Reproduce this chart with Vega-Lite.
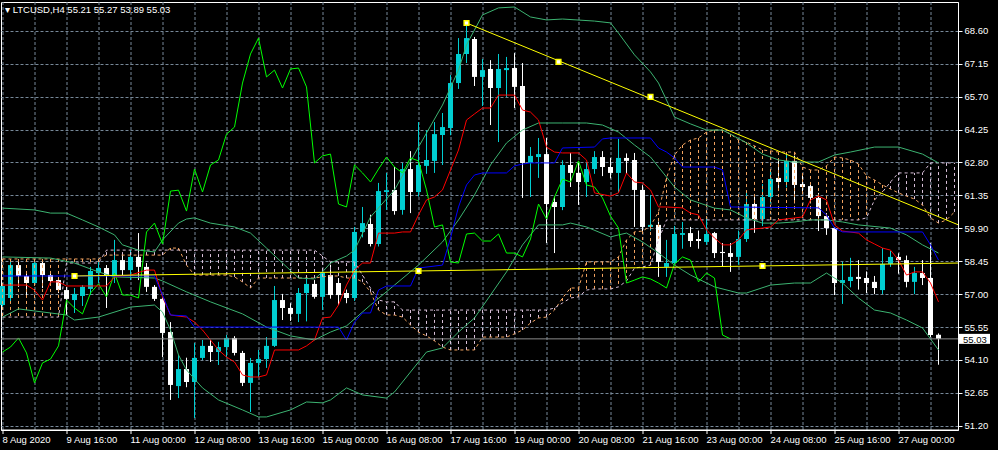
{
"$schema": "https://vega.github.io/schema/vega-lite/v6.json",
"width": 957,
"height": 428,
"autosize": {"type": "none"},
"padding": {"left": 1, "top": 2, "right": 40, "bottom": 20},
"background": "#000000",
"title": {"text": "▾ LTCUSD,H4  55.21 55.27 53.89 55.03", "anchor": "start", "frame": "group", "orient": "top", "offset": -20, "baseline": "alphabetic", "dx": 4, "color": "#ffffff", "font": "Liberation Sans", "fontSize": 9.5, "fontWeight": "normal"},
"config": {"view": {"stroke": "#ffffff", "strokeWidth": 1}, "axis": {"labelOverlap": false, "labelFlush": false, "labelBound": false}},
"datasets": {
"bars": [
{"t":"2020-08-08T08:00Z","o":56.52,"h":57.50,"l":56.45,"c":57.36},
{"t":"2020-08-08T12:00Z","o":56.83,"h":58.50,"l":56.66,"c":58.28},
{"t":"2020-08-08T16:00Z","o":58.28,"h":58.50,"l":57.32,"c":57.80},
{"t":"2020-08-08T20:00Z","o":57.80,"h":57.98,"l":56.96,"c":57.49},
{"t":"2020-08-09T00:00Z","o":57.49,"h":58.50,"l":57.40,"c":58.37},
{"t":"2020-08-09T04:00Z","o":58.37,"h":58.50,"l":57.27,"c":57.84},
{"t":"2020-08-09T08:00Z","o":57.84,"h":57.93,"l":57.40,"c":57.58},
{"t":"2020-08-09T12:00Z","o":57.62,"h":57.71,"l":57.05,"c":57.18},
{"t":"2020-08-09T16:00Z","o":57.18,"h":57.32,"l":56.08,"c":56.79},
{"t":"2020-08-09T20:00Z","o":56.74,"h":57.27,"l":56.17,"c":57.01},
{"t":"2020-08-10T00:00Z","o":56.92,"h":57.40,"l":56.48,"c":57.32},
{"t":"2020-08-10T04:00Z","o":57.23,"h":58.20,"l":56.96,"c":58.02},
{"t":"2020-08-10T08:00Z","o":57.93,"h":58.42,"l":57.49,"c":58.15},
{"t":"2020-08-10T12:00Z","o":58.15,"h":58.28,"l":56.39,"c":57.84},
{"t":"2020-08-10T16:00Z","o":57.80,"h":59.39,"l":57.49,"c":58.50},
{"t":"2020-08-10T20:00Z","o":58.50,"h":58.72,"l":57.84,"c":58.06},
{"t":"2020-08-11T00:00Z","o":58.06,"h":58.94,"l":57.62,"c":58.64},
{"t":"2020-08-11T04:00Z","o":58.64,"h":59.69,"l":57.62,"c":58.20},
{"t":"2020-08-11T08:00Z","o":58.20,"h":58.37,"l":57.10,"c":57.32},
{"t":"2020-08-11T12:00Z","o":57.32,"h":57.40,"l":56.70,"c":56.79},
{"t":"2020-08-11T16:00Z","o":56.79,"h":56.85,"l":54.23,"c":55.29},
{"t":"2020-08-11T20:00Z","o":55.33,"h":55.77,"l":52.34,"c":53.00},
{"t":"2020-08-12T00:00Z","o":52.95,"h":54.32,"l":52.42,"c":53.70},
{"t":"2020-08-12T04:00Z","o":53.70,"h":54.20,"l":52.90,"c":53.13},
{"t":"2020-08-12T08:00Z","o":53.13,"h":54.85,"l":51.54,"c":54.19},
{"t":"2020-08-12T12:00Z","o":54.19,"h":54.98,"l":54.10,"c":54.72},
{"t":"2020-08-12T16:00Z","o":54.72,"h":54.98,"l":54.01,"c":54.45},
{"t":"2020-08-12T20:00Z","o":54.45,"h":54.90,"l":53.88,"c":54.67},
{"t":"2020-08-13T00:00Z","o":54.67,"h":55.20,"l":54.23,"c":55.07},
{"t":"2020-08-13T04:00Z","o":55.07,"h":55.15,"l":54.30,"c":54.41},
{"t":"2020-08-13T08:00Z","o":54.41,"h":54.50,"l":52.95,"c":53.09},
{"t":"2020-08-13T12:00Z","o":53.09,"h":54.19,"l":51.81,"c":53.97},
{"t":"2020-08-13T16:00Z","o":53.97,"h":54.54,"l":53.35,"c":54.14},
{"t":"2020-08-13T20:00Z","o":54.14,"h":55.11,"l":53.75,"c":54.72},
{"t":"2020-08-14T00:00Z","o":54.72,"h":57.36,"l":54.67,"c":56.74},
{"t":"2020-08-14T04:00Z","o":56.74,"h":57.01,"l":55.86,"c":56.39},
{"t":"2020-08-14T08:00Z","o":56.39,"h":56.60,"l":55.82,"c":56.13},
{"t":"2020-08-14T12:00Z","o":56.13,"h":57.27,"l":55.77,"c":57.05},
{"t":"2020-08-14T16:00Z","o":57.05,"h":57.71,"l":55.80,"c":57.45},
{"t":"2020-08-14T20:00Z","o":57.45,"h":57.62,"l":56.80,"c":56.88},
{"t":"2020-08-15T00:00Z","o":56.88,"h":58.06,"l":56.30,"c":57.93},
{"t":"2020-08-15T04:00Z","o":57.84,"h":58.30,"l":56.80,"c":56.96},
{"t":"2020-08-15T08:00Z","o":57.49,"h":57.71,"l":56.52,"c":56.96},
{"t":"2020-08-15T12:00Z","o":57.05,"h":57.20,"l":56.60,"c":56.83},
{"t":"2020-08-15T16:00Z","o":56.83,"h":59.96,"l":56.70,"c":59.74},
{"t":"2020-08-15T20:00Z","o":59.74,"h":60.84,"l":59.50,"c":60.13},
{"t":"2020-08-16T00:00Z","o":60.09,"h":60.50,"l":59.10,"c":59.21},
{"t":"2020-08-16T04:00Z","o":59.21,"h":61.90,"l":59.10,"c":61.54},
{"t":"2020-08-16T08:00Z","o":61.50,"h":62.34,"l":60.71,"c":61.58},
{"t":"2020-08-16T12:00Z","o":61.59,"h":62.60,"l":60.50,"c":60.66},
{"t":"2020-08-16T16:00Z","o":60.71,"h":62.78,"l":60.50,"c":62.51},
{"t":"2020-08-16T20:00Z","o":62.51,"h":63.30,"l":60.57,"c":61.50},
{"t":"2020-08-17T00:00Z","o":61.50,"h":64.58,"l":61.30,"c":62.69},
{"t":"2020-08-17T04:00Z","o":62.65,"h":64.23,"l":62.30,"c":62.91},
{"t":"2020-08-17T08:00Z","o":62.87,"h":64.58,"l":62.34,"c":64.05},
{"t":"2020-08-17T12:00Z","o":64.01,"h":64.98,"l":62.69,"c":64.36},
{"t":"2020-08-17T16:00Z","o":64.32,"h":66.65,"l":64.00,"c":66.30},
{"t":"2020-08-17T20:00Z","o":66.30,"h":68.28,"l":66.04,"c":67.58},
{"t":"2020-08-18T00:00Z","o":67.58,"h":68.945,"l":67.18,"c":68.28},
{"t":"2020-08-18T04:00Z","o":68.24,"h":68.33,"l":66.17,"c":66.57},
{"t":"2020-08-18T08:00Z","o":66.57,"h":67.36,"l":65.29,"c":66.87},
{"t":"2020-08-18T12:00Z","o":66.92,"h":67.31,"l":64.45,"c":66.08},
{"t":"2020-08-18T16:00Z","o":66.08,"h":67.58,"l":63.70,"c":66.92},
{"t":"2020-08-18T20:00Z","o":66.87,"h":67.45,"l":65.69,"c":66.96},
{"t":"2020-08-19T00:00Z","o":66.96,"h":67.62,"l":65.20,"c":66.13},
{"t":"2020-08-19T04:00Z","o":66.17,"h":67.18,"l":61.24,"c":62.78},
{"t":"2020-08-19T08:00Z","o":62.78,"h":63.48,"l":61.28,"c":63.09},
{"t":"2020-08-19T12:00Z","o":63.04,"h":63.88,"l":62.12,"c":63.17},
{"t":"2020-08-19T16:00Z","o":63.17,"h":63.88,"l":59.25,"c":60.97},
{"t":"2020-08-19T20:00Z","o":61.06,"h":61.30,"l":58.81,"c":60.84},
{"t":"2020-08-20T00:00Z","o":60.84,"h":62.90,"l":60.70,"c":62.69},
{"t":"2020-08-20T04:00Z","o":62.69,"h":63.22,"l":61.72,"c":62.34},
{"t":"2020-08-20T08:00Z","o":62.34,"h":62.78,"l":60.93,"c":61.94},
{"t":"2020-08-20T12:00Z","o":61.94,"h":62.78,"l":61.28,"c":62.51},
{"t":"2020-08-20T16:00Z","o":62.51,"h":63.30,"l":62.30,"c":63.04},
{"t":"2020-08-20T20:00Z","o":63.04,"h":63.30,"l":62.20,"c":62.60},
{"t":"2020-08-21T00:00Z","o":62.60,"h":63.00,"l":62.10,"c":62.34},
{"t":"2020-08-21T04:00Z","o":62.34,"h":63.84,"l":61.46,"c":63.00},
{"t":"2020-08-21T08:00Z","o":63.00,"h":63.20,"l":62.30,"c":62.87},
{"t":"2020-08-21T12:00Z","o":62.91,"h":63.22,"l":59.96,"c":61.59},
{"t":"2020-08-21T16:00Z","o":61.59,"h":61.80,"l":59.70,"c":59.96},
{"t":"2020-08-21T20:00Z","o":59.96,"h":61.37,"l":59.80,"c":60.05},
{"t":"2020-08-22T00:00Z","o":60.05,"h":60.20,"l":57.76,"c":58.42},
{"t":"2020-08-22T04:00Z","o":58.20,"h":59.39,"l":57.76,"c":58.37},
{"t":"2020-08-22T08:00Z","o":58.37,"h":60.00,"l":58.33,"c":59.65},
{"t":"2020-08-22T12:00Z","o":59.61,"h":60.18,"l":59.00,"c":59.69},
{"t":"2020-08-22T16:00Z","o":59.69,"h":59.96,"l":59.08,"c":59.34},
{"t":"2020-08-22T20:00Z","o":59.43,"h":59.80,"l":59.00,"c":59.34},
{"t":"2020-08-23T00:00Z","o":59.30,"h":60.44,"l":59.17,"c":59.65},
{"t":"2020-08-23T04:00Z","o":59.69,"h":59.74,"l":58.59,"c":58.81},
{"t":"2020-08-23T08:00Z","o":58.86,"h":59.25,"l":58.24,"c":58.81},
{"t":"2020-08-23T12:00Z","o":58.81,"h":59.25,"l":57.98,"c":58.64},
{"t":"2020-08-23T16:00Z","o":58.64,"h":59.80,"l":58.30,"c":59.43},
{"t":"2020-08-23T20:00Z","o":59.43,"h":61.50,"l":59.30,"c":60.97},
{"t":"2020-08-24T00:00Z","o":60.97,"h":61.30,"l":59.70,"c":60.31},
{"t":"2020-08-24T04:00Z","o":60.31,"h":61.85,"l":60.00,"c":61.28},
{"t":"2020-08-24T08:00Z","o":61.28,"h":62.50,"l":61.00,"c":62.07},
{"t":"2020-08-24T12:00Z","o":62.12,"h":62.90,"l":61.60,"c":61.94},
{"t":"2020-08-24T16:00Z","o":61.94,"h":63.20,"l":61.70,"c":62.87},
{"t":"2020-08-24T20:00Z","o":62.87,"h":63.10,"l":61.00,"c":61.81},
{"t":"2020-08-25T00:00Z","o":61.85,"h":62.30,"l":61.40,"c":61.72},
{"t":"2020-08-25T04:00Z","o":61.76,"h":61.90,"l":61.00,"c":61.24},
{"t":"2020-08-25T08:00Z","o":61.24,"h":61.46,"l":59.78,"c":60.44},
{"t":"2020-08-25T12:00Z","o":60.44,"h":60.57,"l":59.61,"c":59.91},
{"t":"2020-08-25T16:00Z","o":59.91,"h":59.96,"l":56.96,"c":57.49},
{"t":"2020-08-25T20:00Z","o":57.49,"h":58.42,"l":56.57,"c":57.62},
{"t":"2020-08-26T00:00Z","o":57.58,"h":58.60,"l":57.30,"c":57.76},
{"t":"2020-08-26T04:00Z","o":57.76,"h":58.50,"l":57.20,"c":57.67},
{"t":"2020-08-26T08:00Z","o":57.71,"h":58.00,"l":57.05,"c":57.49},
{"t":"2020-08-26T12:00Z","o":57.54,"h":57.80,"l":57.00,"c":57.27},
{"t":"2020-08-26T16:00Z","o":57.18,"h":59.03,"l":57.00,"c":58.33},
{"t":"2020-08-26T20:00Z","o":58.33,"h":58.90,"l":58.20,"c":58.64},
{"t":"2020-08-27T00:00Z","o":58.64,"h":58.80,"l":57.90,"c":58.50},
{"t":"2020-08-27T04:00Z","o":58.50,"h":58.70,"l":57.30,"c":57.54},
{"t":"2020-08-27T08:00Z","o":57.54,"h":58.20,"l":57.00,"c":57.93},
{"t":"2020-08-27T12:00Z","o":57.93,"h":58.50,"l":57.40,"c":57.71},
{"t":"2020-08-27T16:00Z","o":57.71,"h":59.25,"l":55.10,"c":55.20},
{"t":"2020-08-27T20:00Z","o":55.21,"h":55.27,"l":53.89,"c":55.03}
],
"cloud": [
{"t":"2020-08-08T08:00Z","a":58.55,"b":55.99},
{"t":"2020-08-08T12:00Z","a":58.55,"b":55.99},
{"t":"2020-08-08T16:00Z","a":58.55,"b":55.99},
{"t":"2020-08-08T20:00Z","a":58.55,"b":55.99},
{"t":"2020-08-09T00:00Z","a":58.55,"b":55.99},
{"t":"2020-08-09T04:00Z","a":58.55,"b":55.99},
{"t":"2020-08-09T08:00Z","a":58.55,"b":55.99},
{"t":"2020-08-09T12:00Z","a":58.55,"b":55.99},
{"t":"2020-08-09T16:00Z","a":58.55,"b":58.37},
{"t":"2020-08-09T20:00Z","a":58.55,"b":58.37},
{"t":"2020-08-10T00:00Z","a":58.55,"b":58.37},
{"t":"2020-08-10T04:00Z","a":58.55,"b":58.37},
{"t":"2020-08-10T08:00Z","a":58.55,"b":58.37},
{"t":"2020-08-10T12:00Z","a":58.72,"b":58.94},
{"t":"2020-08-10T16:00Z","a":58.72,"b":58.94},
{"t":"2020-08-10T20:00Z","a":58.72,"b":58.94},
{"t":"2020-08-11T00:00Z","a":58.72,"b":58.94},
{"t":"2020-08-11T04:00Z","a":58.72,"b":58.94},
{"t":"2020-08-11T08:00Z","a":58.72,"b":58.94},
{"t":"2020-08-11T12:00Z","a":58.72,"b":58.94},
{"t":"2020-08-11T16:00Z","a":58.72,"b":58.94},
{"t":"2020-08-11T20:00Z","a":59.03,"b":58.94},
{"t":"2020-08-12T00:00Z","a":59.03,"b":58.94},
{"t":"2020-08-12T04:00Z","a":58.28,"b":58.94},
{"t":"2020-08-12T08:00Z","a":57.84,"b":58.94},
{"t":"2020-08-12T12:00Z","a":57.84,"b":58.94},
{"t":"2020-08-12T16:00Z","a":57.84,"b":58.94},
{"t":"2020-08-12T20:00Z","a":57.84,"b":58.94},
{"t":"2020-08-13T00:00Z","a":57.84,"b":58.94},
{"t":"2020-08-13T04:00Z","a":57.76,"b":58.94},
{"t":"2020-08-13T08:00Z","a":57.54,"b":58.94},
{"t":"2020-08-13T12:00Z","a":57.27,"b":58.94},
{"t":"2020-08-13T16:00Z","a":57.71,"b":58.94},
{"t":"2020-08-13T20:00Z","a":57.71,"b":58.94},
{"t":"2020-08-14T00:00Z","a":57.71,"b":58.94},
{"t":"2020-08-14T04:00Z","a":57.71,"b":58.94},
{"t":"2020-08-14T08:00Z","a":57.71,"b":58.94},
{"t":"2020-08-14T12:00Z","a":57.71,"b":58.94},
{"t":"2020-08-14T16:00Z","a":57.71,"b":58.94},
{"t":"2020-08-14T20:00Z","a":57.71,"b":58.94},
{"t":"2020-08-15T00:00Z","a":57.76,"b":58.68},
{"t":"2020-08-15T04:00Z","a":57.80,"b":58.42},
{"t":"2020-08-15T08:00Z","a":57.80,"b":58.42},
{"t":"2020-08-15T12:00Z","a":57.71,"b":58.42},
{"t":"2020-08-15T16:00Z","a":57.71,"b":58.42},
{"t":"2020-08-15T20:00Z","a":57.54,"b":57.84},
{"t":"2020-08-16T00:00Z","a":57.10,"b":57.27},
{"t":"2020-08-16T04:00Z","a":56.30,"b":56.74},
{"t":"2020-08-16T08:00Z","a":56.08,"b":56.66},
{"t":"2020-08-16T12:00Z","a":56.08,"b":56.66},
{"t":"2020-08-16T16:00Z","a":55.99,"b":56.30},
{"t":"2020-08-16T20:00Z","a":55.64,"b":56.30},
{"t":"2020-08-17T00:00Z","a":55.33,"b":56.30},
{"t":"2020-08-17T04:00Z","a":55.16,"b":56.30},
{"t":"2020-08-17T08:00Z","a":54.94,"b":56.30},
{"t":"2020-08-17T12:00Z","a":54.67,"b":56.30},
{"t":"2020-08-17T16:00Z","a":54.54,"b":56.30},
{"t":"2020-08-17T20:00Z","a":54.54,"b":56.30},
{"t":"2020-08-18T00:00Z","a":54.54,"b":56.30},
{"t":"2020-08-18T04:00Z","a":54.54,"b":56.30},
{"t":"2020-08-18T08:00Z","a":55.11,"b":56.30},
{"t":"2020-08-18T12:00Z","a":55.11,"b":56.30},
{"t":"2020-08-18T16:00Z","a":55.11,"b":56.30},
{"t":"2020-08-18T20:00Z","a":55.11,"b":56.30},
{"t":"2020-08-19T00:00Z","a":55.25,"b":56.30},
{"t":"2020-08-19T04:00Z","a":55.42,"b":56.30},
{"t":"2020-08-19T08:00Z","a":55.73,"b":56.30},
{"t":"2020-08-19T12:00Z","a":55.95,"b":56.30},
{"t":"2020-08-19T16:00Z","a":55.99,"b":56.30},
{"t":"2020-08-19T20:00Z","a":56.30,"b":56.39},
{"t":"2020-08-20T00:00Z","a":56.83,"b":56.61},
{"t":"2020-08-20T04:00Z","a":57.27,"b":56.83},
{"t":"2020-08-20T08:00Z","a":57.27,"b":56.88},
{"t":"2020-08-20T12:00Z","a":58.42,"b":57.18},
{"t":"2020-08-20T16:00Z","a":58.42,"b":57.23},
{"t":"2020-08-20T20:00Z","a":58.42,"b":57.23},
{"t":"2020-08-21T00:00Z","a":58.42,"b":57.23},
{"t":"2020-08-21T04:00Z","a":58.64,"b":57.32},
{"t":"2020-08-21T08:00Z","a":59.39,"b":57.58},
{"t":"2020-08-21T12:00Z","a":59.74,"b":58.15},
{"t":"2020-08-21T16:00Z","a":59.78,"b":58.20},
{"t":"2020-08-21T20:00Z","a":60.00,"b":58.28},
{"t":"2020-08-22T00:00Z","a":60.62,"b":59.39},
{"t":"2020-08-22T04:00Z","a":62.12,"b":60.27},
{"t":"2020-08-22T08:00Z","a":63.13,"b":60.27},
{"t":"2020-08-22T12:00Z","a":63.57,"b":60.27},
{"t":"2020-08-22T16:00Z","a":63.79,"b":60.27},
{"t":"2020-08-22T20:00Z","a":63.88,"b":60.27},
{"t":"2020-08-23T00:00Z","a":64.14,"b":60.27},
{"t":"2020-08-23T04:00Z","a":64.23,"b":60.27},
{"t":"2020-08-23T08:00Z","a":64.23,"b":60.27},
{"t":"2020-08-23T12:00Z","a":64.05,"b":60.27},
{"t":"2020-08-23T16:00Z","a":63.79,"b":60.27},
{"t":"2020-08-23T20:00Z","a":63.70,"b":60.27},
{"t":"2020-08-24T00:00Z","a":63.53,"b":60.27},
{"t":"2020-08-24T04:00Z","a":63.35,"b":60.27},
{"t":"2020-08-24T08:00Z","a":63.31,"b":60.27},
{"t":"2020-08-24T12:00Z","a":63.26,"b":60.27},
{"t":"2020-08-24T16:00Z","a":63.26,"b":60.27},
{"t":"2020-08-24T20:00Z","a":63.26,"b":60.27},
{"t":"2020-08-25T00:00Z","a":62.60,"b":60.27},
{"t":"2020-08-25T04:00Z","a":62.47,"b":60.27},
{"t":"2020-08-25T08:00Z","a":62.47,"b":60.27},
{"t":"2020-08-25T12:00Z","a":62.65,"b":60.27},
{"t":"2020-08-25T16:00Z","a":63.04,"b":60.27},
{"t":"2020-08-25T20:00Z","a":63.00,"b":60.27},
{"t":"2020-08-26T00:00Z","a":62.91,"b":60.27},
{"t":"2020-08-26T04:00Z","a":62.73,"b":60.27},
{"t":"2020-08-26T08:00Z","a":62.21,"b":60.36},
{"t":"2020-08-26T12:00Z","a":62.03,"b":61.15},
{"t":"2020-08-26T16:00Z","a":61.81,"b":61.50},
{"t":"2020-08-26T20:00Z","a":61.63,"b":61.94},
{"t":"2020-08-27T00:00Z","a":61.46,"b":62.34},
{"t":"2020-08-27T04:00Z","a":61.32,"b":62.34},
{"t":"2020-08-27T08:00Z","a":61.19,"b":62.34},
{"t":"2020-08-27T12:00Z","a":60.93,"b":62.34},
{"t":"2020-08-27T16:00Z","a":60.36,"b":62.78},
{"t":"2020-08-27T20:00Z","a":60.13,"b":62.78},
{"t":"2020-08-28T00:00Z","a":60.27,"b":62.78},
{"t":"2020-08-28T04:00Z","a":60.62,"b":62.78}
],
"tenkan": [
{"t":"2020-08-08T08:00Z","v":57.40},{"t":"2020-08-08T20:00Z","v":57.40},{"t":"2020-08-09T00:00Z","v":57.18},{"t":"2020-08-09T04:00Z","v":56.74},
{"t":"2020-08-09T08:00Z","v":57.54},{"t":"2020-08-09T12:00Z","v":57.54},{"t":"2020-08-09T16:00Z","v":57.36},{"t":"2020-08-10T12:00Z","v":57.36},
{"t":"2020-08-10T16:00Z","v":57.76},{"t":"2020-08-11T00:00Z","v":57.84},{"t":"2020-08-11T08:00Z","v":58.06},{"t":"2020-08-11T12:00Z","v":58.06},
{"t":"2020-08-11T16:00Z","v":56.88},{"t":"2020-08-11T20:00Z","v":56.08},{"t":"2020-08-12T04:00Z","v":55.99},{"t":"2020-08-12T08:00Z","v":55.77},
{"t":"2020-08-12T12:00Z","v":55.42},{"t":"2020-08-12T16:00Z","v":54.98},{"t":"2020-08-12T20:00Z","v":54.54},{"t":"2020-08-13T00:00Z","v":54.23},
{"t":"2020-08-13T04:00Z","v":54.01},{"t":"2020-08-13T08:00Z","v":53.44},{"t":"2020-08-13T12:00Z","v":53.35},{"t":"2020-08-13T16:00Z","v":53.35},
{"t":"2020-08-13T20:00Z","v":53.44},{"t":"2020-08-14T00:00Z","v":54.54},{"t":"2020-08-14T12:00Z","v":54.54},{"t":"2020-08-14T16:00Z","v":54.72},
{"t":"2020-08-14T20:00Z","v":54.98},{"t":"2020-08-15T00:00Z","v":55.95},{"t":"2020-08-15T04:00Z","v":55.99},{"t":"2020-08-15T08:00Z","v":56.52},
{"t":"2020-08-15T12:00Z","v":57.40},{"t":"2020-08-15T16:00Z","v":58.06},{"t":"2020-08-15T20:00Z","v":58.37},{"t":"2020-08-16T00:00Z","v":58.37},
{"t":"2020-08-16T04:00Z","v":59.69},{"t":"2020-08-16T12:00Z","v":59.69},{"t":"2020-08-16T16:00Z","v":59.74},{"t":"2020-08-16T20:00Z","v":59.74},
{"t":"2020-08-17T00:00Z","v":60.49},{"t":"2020-08-17T04:00Z","v":61.15},{"t":"2020-08-17T08:00Z","v":61.28},{"t":"2020-08-17T12:00Z","v":61.59},
{"t":"2020-08-17T16:00Z","v":62.47},{"t":"2020-08-17T20:00Z","v":63.35},{"t":"2020-08-18T00:00Z","v":64.67},{"t":"2020-08-18T04:00Z","v":64.94},
{"t":"2020-08-18T08:00Z","v":65.20},{"t":"2020-08-18T12:00Z","v":65.20},{"t":"2020-08-18T16:00Z","v":65.77},{"t":"2020-08-18T20:00Z","v":65.77},
{"t":"2020-08-19T00:00Z","v":65.77},{"t":"2020-08-19T04:00Z","v":65.11},{"t":"2020-08-19T08:00Z","v":65.02},{"t":"2020-08-19T12:00Z","v":64.67},
{"t":"2020-08-19T16:00Z","v":63.48},{"t":"2020-08-19T20:00Z","v":63.26},{"t":"2020-08-20T00:00Z","v":63.22},{"t":"2020-08-20T08:00Z","v":63.22},
{"t":"2020-08-20T12:00Z","v":62.91},{"t":"2020-08-20T16:00Z","v":61.46},{"t":"2020-08-21T00:00Z","v":61.32},{"t":"2020-08-21T04:00Z","v":61.46},
{"t":"2020-08-21T08:00Z","v":62.34},{"t":"2020-08-21T12:00Z","v":61.94},{"t":"2020-08-21T16:00Z","v":61.90},{"t":"2020-08-21T20:00Z","v":61.59},
{"t":"2020-08-22T00:00Z","v":60.84},{"t":"2020-08-22T04:00Z","v":60.84},{"t":"2020-08-22T12:00Z","v":60.80},{"t":"2020-08-22T16:00Z","v":60.57},
{"t":"2020-08-22T20:00Z","v":60.49},{"t":"2020-08-23T00:00Z","v":59.83},{"t":"2020-08-23T04:00Z","v":59.47},{"t":"2020-08-23T08:00Z","v":59.17},
{"t":"2020-08-23T12:00Z","v":59.17},{"t":"2020-08-23T16:00Z","v":59.39},{"t":"2020-08-23T20:00Z","v":59.83},{"t":"2020-08-24T04:00Z","v":59.91},
{"t":"2020-08-24T08:00Z","v":59.96},{"t":"2020-08-24T12:00Z","v":60.27},{"t":"2020-08-25T00:00Z","v":60.40},{"t":"2020-08-25T04:00Z","v":61.15},
{"t":"2020-08-25T08:00Z","v":61.32},{"t":"2020-08-25T12:00Z","v":61.15},{"t":"2020-08-25T16:00Z","v":60.05},{"t":"2020-08-25T20:00Z","v":59.78},
{"t":"2020-08-26T04:00Z","v":59.69},{"t":"2020-08-26T08:00Z","v":59.39},{"t":"2020-08-26T12:00Z","v":59.21},{"t":"2020-08-26T16:00Z","v":59.03},
{"t":"2020-08-26T20:00Z","v":58.94},{"t":"2020-08-27T00:00Z","v":58.50},{"t":"2020-08-27T04:00Z","v":57.84},{"t":"2020-08-27T08:00Z","v":57.98},
{"t":"2020-08-27T12:00Z","v":57.98},{"t":"2020-08-27T16:00Z","v":57.49},{"t":"2020-08-27T20:00Z","v":56.66}
],
"kijun": [
{"t":"2020-08-08T08:00Z","v":57.80},{"t":"2020-08-11T12:00Z","v":57.80},{"t":"2020-08-11T16:00Z","v":56.96},{"t":"2020-08-11T20:00Z","v":56.08},
{"t":"2020-08-12T04:00Z","v":56.04},{"t":"2020-08-12T08:00Z","v":55.55},{"t":"2020-08-15T08:00Z","v":55.55},{"t":"2020-08-15T12:00Z","v":54.98},
{"t":"2020-08-15T16:00Z","v":55.77},{"t":"2020-08-15T20:00Z","v":56.17},{"t":"2020-08-16T00:00Z","v":56.17},{"t":"2020-08-16T04:00Z","v":57.18},
{"t":"2020-08-16T08:00Z","v":57.36},{"t":"2020-08-16T20:00Z","v":57.36},{"t":"2020-08-17T00:00Z","v":58.15},{"t":"2020-08-17T12:00Z","v":58.28},
{"t":"2020-08-17T16:00Z","v":59.47},{"t":"2020-08-17T20:00Z","v":60.84},{"t":"2020-08-18T00:00Z","v":61.81},{"t":"2020-08-18T04:00Z","v":62.25},
{"t":"2020-08-18T08:00Z","v":62.34},{"t":"2020-08-18T20:00Z","v":62.34},{"t":"2020-08-19T00:00Z","v":62.65},{"t":"2020-08-19T04:00Z","v":62.73},
{"t":"2020-08-19T08:00Z","v":62.78},{"t":"2020-08-19T20:00Z","v":62.78},{"t":"2020-08-20T00:00Z","v":63.44},{"t":"2020-08-20T16:00Z","v":63.48},
{"t":"2020-08-20T20:00Z","v":63.84},{"t":"2020-08-21T00:00Z","v":63.88},{"t":"2020-08-21T20:00Z","v":63.88},{"t":"2020-08-22T00:00Z","v":63.44},
{"t":"2020-08-22T04:00Z","v":63.26},{"t":"2020-08-22T08:00Z","v":63.00},{"t":"2020-08-22T12:00Z","v":62.60},{"t":"2020-08-23T04:00Z","v":62.60},
{"t":"2020-08-23T08:00Z","v":62.47},{"t":"2020-08-23T12:00Z","v":60.84},{"t":"2020-08-25T08:00Z","v":60.80},{"t":"2020-08-25T12:00Z","v":60.49},
{"t":"2020-08-25T16:00Z","v":59.91},{"t":"2020-08-25T20:00Z","v":59.74},{"t":"2020-08-27T12:00Z","v":59.74},{"t":"2020-08-27T16:00Z","v":59.17},
{"t":"2020-08-27T20:00Z","v":58.50}
],
"chikou": [
{"t":"2020-08-08T08:00Z","v":54.45},{"t":"2020-08-08T12:00Z","v":54.67},{"t":"2020-08-08T16:00Z","v":55.07},{"t":"2020-08-08T20:00Z","v":54.41},
{"t":"2020-08-09T00:00Z","v":53.09},{"t":"2020-08-09T04:00Z","v":53.97},{"t":"2020-08-09T08:00Z","v":54.14},{"t":"2020-08-09T12:00Z","v":54.72},
{"t":"2020-08-09T16:00Z","v":56.74},{"t":"2020-08-09T20:00Z","v":56.39},{"t":"2020-08-10T00:00Z","v":56.13},{"t":"2020-08-10T04:00Z","v":57.05},
{"t":"2020-08-10T08:00Z","v":57.45},{"t":"2020-08-10T12:00Z","v":56.88},{"t":"2020-08-10T16:00Z","v":57.93},{"t":"2020-08-10T20:00Z","v":56.96},
{"t":"2020-08-11T00:00Z","v":56.96},{"t":"2020-08-11T04:00Z","v":56.83},{"t":"2020-08-11T08:00Z","v":59.74},{"t":"2020-08-11T12:00Z","v":60.13},
{"t":"2020-08-11T16:00Z","v":59.21},{"t":"2020-08-11T20:00Z","v":61.54},{"t":"2020-08-12T00:00Z","v":61.58},{"t":"2020-08-12T04:00Z","v":60.66},
{"t":"2020-08-12T08:00Z","v":62.51},{"t":"2020-08-12T12:00Z","v":61.50},{"t":"2020-08-12T16:00Z","v":62.69},{"t":"2020-08-12T20:00Z","v":62.91},
{"t":"2020-08-13T00:00Z","v":64.05},{"t":"2020-08-13T04:00Z","v":64.36},{"t":"2020-08-13T08:00Z","v":66.30},{"t":"2020-08-13T12:00Z","v":67.58},
{"t":"2020-08-13T16:00Z","v":68.28},{"t":"2020-08-13T20:00Z","v":66.57},{"t":"2020-08-14T00:00Z","v":66.87},{"t":"2020-08-14T04:00Z","v":66.08},
{"t":"2020-08-14T08:00Z","v":66.92},{"t":"2020-08-14T12:00Z","v":66.96},{"t":"2020-08-14T16:00Z","v":66.13},{"t":"2020-08-14T20:00Z","v":62.78},
{"t":"2020-08-15T00:00Z","v":63.09},{"t":"2020-08-15T04:00Z","v":63.17},{"t":"2020-08-15T08:00Z","v":60.97},{"t":"2020-08-15T12:00Z","v":60.84},
{"t":"2020-08-15T16:00Z","v":62.69},{"t":"2020-08-15T20:00Z","v":62.34},{"t":"2020-08-16T00:00Z","v":61.94},{"t":"2020-08-16T04:00Z","v":62.51},
{"t":"2020-08-16T08:00Z","v":63.04},{"t":"2020-08-16T12:00Z","v":62.60},{"t":"2020-08-16T16:00Z","v":62.34},{"t":"2020-08-16T20:00Z","v":63.00},
{"t":"2020-08-17T00:00Z","v":62.87},{"t":"2020-08-17T04:00Z","v":61.59},{"t":"2020-08-17T08:00Z","v":59.96},{"t":"2020-08-17T12:00Z","v":60.05},
{"t":"2020-08-17T16:00Z","v":58.42},{"t":"2020-08-17T20:00Z","v":58.37},{"t":"2020-08-18T00:00Z","v":59.65},{"t":"2020-08-18T04:00Z","v":59.69},
{"t":"2020-08-18T08:00Z","v":59.34},{"t":"2020-08-18T12:00Z","v":59.34},{"t":"2020-08-18T16:00Z","v":59.65},{"t":"2020-08-18T20:00Z","v":58.81},
{"t":"2020-08-19T00:00Z","v":58.81},{"t":"2020-08-19T04:00Z","v":58.64},{"t":"2020-08-19T08:00Z","v":59.43},{"t":"2020-08-19T12:00Z","v":60.97},
{"t":"2020-08-19T16:00Z","v":60.31},{"t":"2020-08-19T20:00Z","v":61.28},{"t":"2020-08-20T00:00Z","v":62.07},{"t":"2020-08-20T04:00Z","v":61.94},
{"t":"2020-08-20T08:00Z","v":62.87},{"t":"2020-08-20T12:00Z","v":61.81},{"t":"2020-08-20T16:00Z","v":61.72},{"t":"2020-08-20T20:00Z","v":61.24},
{"t":"2020-08-21T00:00Z","v":60.44},{"t":"2020-08-21T04:00Z","v":59.91},{"t":"2020-08-21T08:00Z","v":57.49},{"t":"2020-08-21T12:00Z","v":57.62},
{"t":"2020-08-21T16:00Z","v":57.76},{"t":"2020-08-21T20:00Z","v":57.67},{"t":"2020-08-22T00:00Z","v":57.49},{"t":"2020-08-22T04:00Z","v":57.27},
{"t":"2020-08-22T08:00Z","v":58.33},{"t":"2020-08-22T12:00Z","v":58.64},{"t":"2020-08-22T16:00Z","v":58.50},{"t":"2020-08-22T20:00Z","v":57.54},
{"t":"2020-08-23T00:00Z","v":57.93},{"t":"2020-08-23T04:00Z","v":57.71},{"t":"2020-08-23T08:00Z","v":55.20},{"t":"2020-08-23T12:00Z","v":55.03}
],
"bb": [
{"t":"2020-08-08T08:00Z","band":"u","v":60.79},{"t":"2020-08-09T00:00Z","band":"u","v":60.71},{"t":"2020-08-09T08:00Z","band":"u","v":60.57},{"t":"2020-08-09T16:00Z","band":"u","v":60.57},
{"t":"2020-08-10T00:00Z","band":"u","v":60.27},{"t":"2020-08-10T08:00Z","band":"u","v":59.96},{"t":"2020-08-10T16:00Z","band":"u","v":59.61},{"t":"2020-08-10T20:00Z","band":"u","v":59.17},
{"t":"2020-08-11T04:00Z","band":"u","v":58.94},{"t":"2020-08-11T12:00Z","band":"u","v":58.86},{"t":"2020-08-11T16:00Z","band":"u","v":59.39},{"t":"2020-08-12T00:00Z","band":"u","v":60.13},
{"t":"2020-08-12T04:00Z","band":"u","v":60.31},{"t":"2020-08-12T08:00Z","band":"u","v":60.36},{"t":"2020-08-12T16:00Z","band":"u","v":60.13},{"t":"2020-08-13T04:00Z","band":"u","v":59.96},
{"t":"2020-08-13T12:00Z","band":"u","v":59.69},{"t":"2020-08-13T20:00Z","band":"u","v":59.03},{"t":"2020-08-14T04:00Z","band":"u","v":58.37},{"t":"2020-08-14T12:00Z","band":"u","v":57.71},
{"t":"2020-08-14T20:00Z","band":"u","v":57.67},{"t":"2020-08-15T00:00Z","band":"u","v":57.98},{"t":"2020-08-15T04:00Z","band":"u","v":58.37},{"t":"2020-08-15T12:00Z","band":"u","v":58.68},
{"t":"2020-08-15T16:00Z","band":"u","v":58.94},{"t":"2020-08-16T00:00Z","band":"u","v":60.40},{"t":"2020-08-16T12:00Z","band":"u","v":61.59},{"t":"2020-08-17T00:00Z","band":"u","v":63.48},
{"t":"2020-08-17T12:00Z","band":"u","v":65.33},{"t":"2020-08-17T20:00Z","band":"u","v":66.87},{"t":"2020-08-18T00:00Z","band":"u","v":67.98},{"t":"2020-08-18T08:00Z","band":"u","v":69.30},
{"t":"2020-08-18T16:00Z","band":"u","v":69.61},{"t":"2020-08-19T00:00Z","band":"u","v":69.65},{"t":"2020-08-19T08:00Z","band":"u","v":69.21},{"t":"2020-08-19T16:00Z","band":"u","v":69.08},
{"t":"2020-08-20T00:00Z","band":"u","v":69.12},{"t":"2020-08-20T16:00Z","band":"u","v":69.03},{"t":"2020-08-21T00:00Z","band":"u","v":68.95},{"t":"2020-08-21T04:00Z","band":"u","v":68.50},
{"t":"2020-08-21T12:00Z","band":"u","v":67.54},{"t":"2020-08-21T20:00Z","band":"u","v":66.79},{"t":"2020-08-22T00:00Z","band":"u","v":66.30},{"t":"2020-08-22T04:00Z","band":"u","v":65.55},
{"t":"2020-08-22T08:00Z","band":"u","v":64.80},{"t":"2020-08-22T16:00Z","band":"u","v":64.50},{"t":"2020-08-23T00:00Z","band":"u","v":64.23},{"t":"2020-08-23T08:00Z","band":"u","v":64.23},
{"t":"2020-08-23T12:00Z","band":"u","v":64.05},{"t":"2020-08-23T20:00Z","band":"u","v":63.66},{"t":"2020-08-24T04:00Z","band":"u","v":63.17},{"t":"2020-08-24T12:00Z","band":"u","v":62.91},
{"t":"2020-08-24T20:00Z","band":"u","v":62.82},{"t":"2020-08-25T08:00Z","band":"u","v":62.82},{"t":"2020-08-25T16:00Z","band":"u","v":63.13},{"t":"2020-08-26T00:00Z","band":"u","v":63.26},
{"t":"2020-08-26T12:00Z","band":"u","v":63.48},{"t":"2020-08-27T00:00Z","band":"u","v":63.48},{"t":"2020-08-27T12:00Z","band":"u","v":63.17},{"t":"2020-08-27T20:00Z","band":"u","v":62.78},
{"t":"2020-08-08T08:00Z","band":"m","v":58.64},{"t":"2020-08-09T08:00Z","band":"m","v":58.59},{"t":"2020-08-09T20:00Z","band":"m","v":58.37},{"t":"2020-08-10T08:00Z","band":"m","v":57.98},
{"t":"2020-08-10T16:00Z","band":"m","v":57.76},{"t":"2020-08-11T12:00Z","band":"m","v":57.71},{"t":"2020-08-11T16:00Z","band":"m","v":57.58},{"t":"2020-08-12T04:00Z","band":"m","v":57.10},
{"t":"2020-08-12T16:00Z","band":"m","v":56.66},{"t":"2020-08-13T08:00Z","band":"m","v":56.13},{"t":"2020-08-13T20:00Z","band":"m","v":55.55},{"t":"2020-08-14T08:00Z","band":"m","v":55.16},
{"t":"2020-08-14T20:00Z","band":"m","v":54.98},{"t":"2020-08-15T04:00Z","band":"m","v":55.33},{"t":"2020-08-15T12:00Z","band":"m","v":55.60},{"t":"2020-08-16T00:00Z","band":"m","v":56.52},
{"t":"2020-08-16T12:00Z","band":"m","v":57.40},{"t":"2020-08-17T00:00Z","band":"m","v":58.28},{"t":"2020-08-17T12:00Z","band":"m","v":59.30},{"t":"2020-08-17T20:00Z","band":"m","v":60.27},
{"t":"2020-08-18T04:00Z","band":"m","v":61.37},{"t":"2020-08-18T12:00Z","band":"m","v":62.69},{"t":"2020-08-18T20:00Z","band":"m","v":63.66},{"t":"2020-08-19T04:00Z","band":"m","v":64.23},
{"t":"2020-08-19T12:00Z","band":"m","v":64.54},{"t":"2020-08-20T00:00Z","band":"m","v":64.54},{"t":"2020-08-20T12:00Z","band":"m","v":64.54},{"t":"2020-08-20T20:00Z","band":"m","v":64.45},
{"t":"2020-08-21T04:00Z","band":"m","v":64.14},{"t":"2020-08-21T12:00Z","band":"m","v":63.57},{"t":"2020-08-21T20:00Z","band":"m","v":63.04},{"t":"2020-08-22T00:00Z","band":"m","v":62.60},
{"t":"2020-08-22T08:00Z","band":"m","v":61.72},{"t":"2020-08-22T16:00Z","band":"m","v":61.15},{"t":"2020-08-23T04:00Z","band":"m","v":60.79},{"t":"2020-08-23T12:00Z","band":"m","v":60.71},
{"t":"2020-08-23T20:00Z","band":"m","v":60.36},{"t":"2020-08-24T04:00Z","band":"m","v":60.13},{"t":"2020-08-24T12:00Z","band":"m","v":60.13},{"t":"2020-08-24T20:00Z","band":"m","v":60.18},
{"t":"2020-08-25T04:00Z","band":"m","v":60.27},{"t":"2020-08-25T12:00Z","band":"m","v":60.27},{"t":"2020-08-25T20:00Z","band":"m","v":60.18},{"t":"2020-08-26T04:00Z","band":"m","v":60.05},
{"t":"2020-08-26T20:00Z","band":"m","v":59.91},{"t":"2020-08-27T04:00Z","band":"m","v":59.61},{"t":"2020-08-27T12:00Z","band":"m","v":59.17},{"t":"2020-08-27T20:00Z","band":"m","v":58.81},
{"t":"2020-08-08T08:00Z","band":"l","v":55.99},{"t":"2020-08-08T16:00Z","band":"l","v":56.35},{"t":"2020-08-09T16:00Z","band":"l","v":56.08},{"t":"2020-08-09T20:00Z","band":"l","v":55.86},
{"t":"2020-08-10T08:00Z","band":"l","v":55.99},{"t":"2020-08-11T00:00Z","band":"l","v":56.43},{"t":"2020-08-11T12:00Z","band":"l","v":56.52},{"t":"2020-08-11T16:00Z","band":"l","v":56.21},
{"t":"2020-08-11T20:00Z","band":"l","v":55.42},{"t":"2020-08-12T00:00Z","band":"l","v":54.32},{"t":"2020-08-12T04:00Z","band":"l","v":53.66},{"t":"2020-08-12T12:00Z","band":"l","v":52.87},
{"t":"2020-08-12T20:00Z","band":"l","v":52.34},{"t":"2020-08-13T08:00Z","band":"l","v":51.90},{"t":"2020-08-13T16:00Z","band":"l","v":51.59},{"t":"2020-08-13T20:00Z","band":"l","v":51.59},
{"t":"2020-08-14T08:00Z","band":"l","v":51.90},{"t":"2020-08-14T16:00Z","band":"l","v":52.25},{"t":"2020-08-15T00:00Z","band":"l","v":52.21},{"t":"2020-08-15T04:00Z","band":"l","v":52.34},
{"t":"2020-08-15T12:00Z","band":"l","v":52.87},{"t":"2020-08-15T20:00Z","band":"l","v":52.56},{"t":"2020-08-16T08:00Z","band":"l","v":52.42},{"t":"2020-08-16T12:00Z","band":"l","v":52.69},
{"t":"2020-08-17T04:00Z","band":"l","v":54.45},{"t":"2020-08-17T12:00Z","band":"l","v":54.63},{"t":"2020-08-17T20:00Z","band":"l","v":55.33},{"t":"2020-08-18T04:00Z","band":"l","v":55.95},
{"t":"2020-08-18T12:00Z","band":"l","v":56.96},{"t":"2020-08-18T20:00Z","band":"l","v":57.98},{"t":"2020-08-19T04:00Z","band":"l","v":59.17},{"t":"2020-08-19T12:00Z","band":"l","v":60.05},
{"t":"2020-08-20T00:00Z","band":"l","v":60.05},{"t":"2020-08-20T04:00Z","band":"l","v":60.13},{"t":"2020-08-20T12:00Z","band":"l","v":59.96},{"t":"2020-08-21T00:00Z","band":"l","v":59.52},
{"t":"2020-08-21T04:00Z","band":"l","v":59.61},{"t":"2020-08-21T08:00Z","band":"l","v":59.69},{"t":"2020-08-21T16:00Z","band":"l","v":59.30},{"t":"2020-08-22T00:00Z","band":"l","v":58.81},
{"t":"2020-08-22T08:00Z","band":"l","v":58.28},{"t":"2020-08-22T16:00Z","band":"l","v":57.84},{"t":"2020-08-23T04:00Z","band":"l","v":57.32},{"t":"2020-08-23T16:00Z","band":"l","v":57.05},
{"t":"2020-08-23T20:00Z","band":"l","v":57.05},{"t":"2020-08-24T08:00Z","band":"l","v":57.40},{"t":"2020-08-24T20:00Z","band":"l","v":57.49},{"t":"2020-08-25T04:00Z","band":"l","v":57.49},
{"t":"2020-08-25T12:00Z","band":"l","v":57.93},{"t":"2020-08-25T20:00Z","band":"l","v":57.49},{"t":"2020-08-26T04:00Z","band":"l","v":56.83},{"t":"2020-08-26T12:00Z","band":"l","v":56.30},
{"t":"2020-08-26T20:00Z","band":"l","v":56.17},{"t":"2020-08-27T04:00Z","band":"l","v":55.86},{"t":"2020-08-27T12:00Z","band":"l","v":55.51},{"t":"2020-08-27T20:00Z","band":"l","v":54.54}
],
"trend": [
{"id":"down","t":"2020-08-18T00:00Z","v":68.945},{"id":"down","t":"2020-08-28T06:00Z","v":60.05},
{"id":"flat","t":"2020-08-09T20:00Z","v":57.80},{"id":"flat","t":"2020-08-28T06:00Z","v":58.37}
],
"anchors": [
{"t":"2020-08-18T00:00Z","v":68.945},{"t":"2020-08-19T22:00Z","v":67.23},{"t":"2020-08-21T20:00Z","v":65.69},
{"t":"2020-08-09T20:00Z","v":57.80},{"t":"2020-08-17T00:00Z","v":58.02},{"t":"2020-08-24T04:00Z","v":58.24}
],
"last": [{"price":55.03}]
},
"layer": [
{"data":{"name":"bars"},"mark":{"type":"rule","strokeWidth":1},
 "encoding":{
  "x":{"field":"t","type":"temporal",
   "scale":{"type":"utc","padding":0,"nice":false,"domain":[{"year":2020,"month":8,"date":8,"hours":7,"minutes":15,"utc":true},{"year":2020,"month":8,"date":28,"hours":5,"minutes":45,"utc":true}]},
   "axis":{"title":null,"translate":0,"tickCount":100,
    "values":[
     {"year":2020,"month":8,"date":8,"hours":8,"utc":true},{"year":2020,"month":8,"date":9,"hours":0,"utc":true},{"year":2020,"month":8,"date":9,"hours":16,"utc":true},
     {"year":2020,"month":8,"date":10,"hours":8,"utc":true},{"year":2020,"month":8,"date":11,"hours":0,"utc":true},{"year":2020,"month":8,"date":11,"hours":16,"utc":true},
     {"year":2020,"month":8,"date":12,"hours":8,"utc":true},{"year":2020,"month":8,"date":13,"hours":0,"utc":true},{"year":2020,"month":8,"date":13,"hours":16,"utc":true},
     {"year":2020,"month":8,"date":14,"hours":8,"utc":true},{"year":2020,"month":8,"date":15,"hours":0,"utc":true},{"year":2020,"month":8,"date":15,"hours":16,"utc":true},
     {"year":2020,"month":8,"date":16,"hours":8,"utc":true},{"year":2020,"month":8,"date":17,"hours":0,"utc":true},{"year":2020,"month":8,"date":17,"hours":16,"utc":true},
     {"year":2020,"month":8,"date":18,"hours":8,"utc":true},{"year":2020,"month":8,"date":19,"hours":0,"utc":true},{"year":2020,"month":8,"date":19,"hours":16,"utc":true},
     {"year":2020,"month":8,"date":20,"hours":8,"utc":true},{"year":2020,"month":8,"date":21,"hours":0,"utc":true},{"year":2020,"month":8,"date":21,"hours":16,"utc":true},
     {"year":2020,"month":8,"date":22,"hours":8,"utc":true},{"year":2020,"month":8,"date":23,"hours":0,"utc":true},{"year":2020,"month":8,"date":23,"hours":16,"utc":true},
     {"year":2020,"month":8,"date":24,"hours":8,"utc":true},{"year":2020,"month":8,"date":25,"hours":0,"utc":true},{"year":2020,"month":8,"date":25,"hours":16,"utc":true},
     {"year":2020,"month":8,"date":26,"hours":8,"utc":true},{"year":2020,"month":8,"date":27,"hours":0,"utc":true},{"year":2020,"month":8,"date":27,"hours":16,"utc":true}
    ],
    "labelExpr":"(round(((+datum.value) - utc(2020,7,8,8)) / 57600000) % 2 == 1) ? '' : (round((+datum.value) - utc(2020,7,8,8)) == 0 ? '8 Aug 2020' : utcFormat(datum.value, '%-d %b %H:%M'))",
    "tickOpacity":{"condition":{"test":"round(((+datum.value) - utc(2020,7,8,8)) / 57600000) % 2 == 1","value":0},"value":1},
    "grid":true,"gridColor":"#778899","gridDash":[3,2],"gridOpacity":1,
    "tickSize":4,"tickColor":"#ffffff","domainColor":"#ffffff",
    "labelAlign":"left","labelBaseline":"top","labelPadding":1,"labelFlush":false,"labelOverlap":false,
    "labelColor":"#ffffff","labelFont":"Liberation Sans","labelFontSize":9.5}},
  "y":{"field":"l","type":"quantitative",
   "scale":{"domain":[51.015,69.87],"nice":false,"zero":false,"padding":0},
   "axis":{"title":null,"orient":"right","tickCount":100,
    "values":[51.2,52.65,54.1,55.55,57,58.45,59.9,61.35,62.8,64.25,65.7,67.15,68.6],
    "format":".2f",
    "grid":true,"gridColor":"#778899","gridDash":[3,2],"gridOpacity":1,
    "tickSize":4,"tickColor":"#ffffff","domainColor":"#ffffff","labelPadding":2,"labelOverlap":false,"labelFlush":false,"labelBound":false,
    "labelColor":"#ffffff","labelFont":"Liberation Sans","labelFontSize":9.5}},
  "y2":{"field":"h"},
  "color":{"condition":{"test":"datum.c >= datum.o","value":"#00ced1"},"value":"#ffffff"}}},
{"data":{"name":"bars"},"mark":{"type":"bar","width":5},
 "encoding":{
  "x":{"field":"t","type":"temporal"},
  "y":{"field":"o","type":"quantitative"},
  "y2":{"field":"c"},
  "color":{"condition":{"test":"datum.c >= datum.o","value":"#00ced1"},"value":"#ffffff"}}},
{"data":{"name":"cloud"},"mark":{"type":"rule","strokeWidth":1,"strokeDash":[3,3]},
 "encoding":{
  "x":{"field":"t","type":"temporal"},
  "y":{"field":"a","type":"quantitative"},
  "y2":{"field":"b"},
  "color":{"condition":{"test":"datum.a >= datum.b","value":"#f4a460"},"value":"#d8bfd8"}}},
{"data":{"name":"cloud"},"mark":{"type":"line","color":"#f4a460","strokeWidth":1,"strokeDash":[3,3],"clip":true},
 "encoding":{"x":{"field":"t","type":"temporal"},"y":{"field":"a","type":"quantitative"}}},
{"data":{"name":"cloud"},"mark":{"type":"line","color":"#d8bfd8","strokeWidth":1,"strokeDash":[3,3],"clip":true},
 "encoding":{"x":{"field":"t","type":"temporal"},"y":{"field":"b","type":"quantitative"}}},
{"data":{"name":"bb"},"mark":{"type":"line","color":"#3cb371","strokeWidth":1},
 "encoding":{"x":{"field":"t","type":"temporal"},"y":{"field":"v","type":"quantitative"},"detail":{"field":"band"}}},
{"data":{"name":"chikou"},"mark":{"type":"line","color":"#00ff00","strokeWidth":1},
 "encoding":{"x":{"field":"t","type":"temporal"},"y":{"field":"v","type":"quantitative"}}},
{"data":{"name":"tenkan"},"mark":{"type":"line","color":"#ff0000","strokeWidth":1},
 "encoding":{"x":{"field":"t","type":"temporal"},"y":{"field":"v","type":"quantitative"}}},
{"data":{"name":"kijun"},"mark":{"type":"line","color":"#0000ff","strokeWidth":1},
 "encoding":{"x":{"field":"t","type":"temporal"},"y":{"field":"v","type":"quantitative"}}},
{"data":{"name":"trend"},"mark":{"type":"line","color":"#ffff00","strokeWidth":1,"clip":true},
 "encoding":{"x":{"field":"t","type":"temporal"},"y":{"field":"v","type":"quantitative"},"detail":{"field":"id"}}},
{"data":{"name":"anchors"},"mark":{"type":"point","shape":"square","size":22,"fill":"#ffffff","stroke":"#ffff00","strokeWidth":1.5,"fillOpacity":1,"opacity":1},
 "encoding":{"x":{"field":"t","type":"temporal"},"y":{"field":"v","type":"quantitative"}}},
{"data":{"name":"last"},"mark":{"type":"rule","color":"#8c8c8c","strokeWidth":1},
 "encoding":{"y":{"field":"price","type":"quantitative"}}},
{"data":{"name":"last"},"mark":{"type":"bar","height":10,"color":"#ffffff"},
 "encoding":{
  "x":{"datum":{"year":2020,"month":8,"date":28,"hours":6,"minutes":15,"utc":true},"type":"temporal"},
  "x2":{"datum":{"year":2020,"month":8,"date":28,"hours":21,"minutes":45,"utc":true}},
  "y":{"field":"price","type":"quantitative"}}},
{"data":{"name":"last"},"mark":{"type":"text","align":"left","baseline":"middle","color":"#000000","font":"Liberation Sans","fontSize":9.5,"dy":1},
 "encoding":{
  "x":{"datum":{"year":2020,"month":8,"date":28,"hours":8,"minutes":15,"utc":true},"type":"temporal"},
  "y":{"field":"price","type":"quantitative"},
  "text":{"field":"price","type":"quantitative","format":".2f"}}}
]
}
